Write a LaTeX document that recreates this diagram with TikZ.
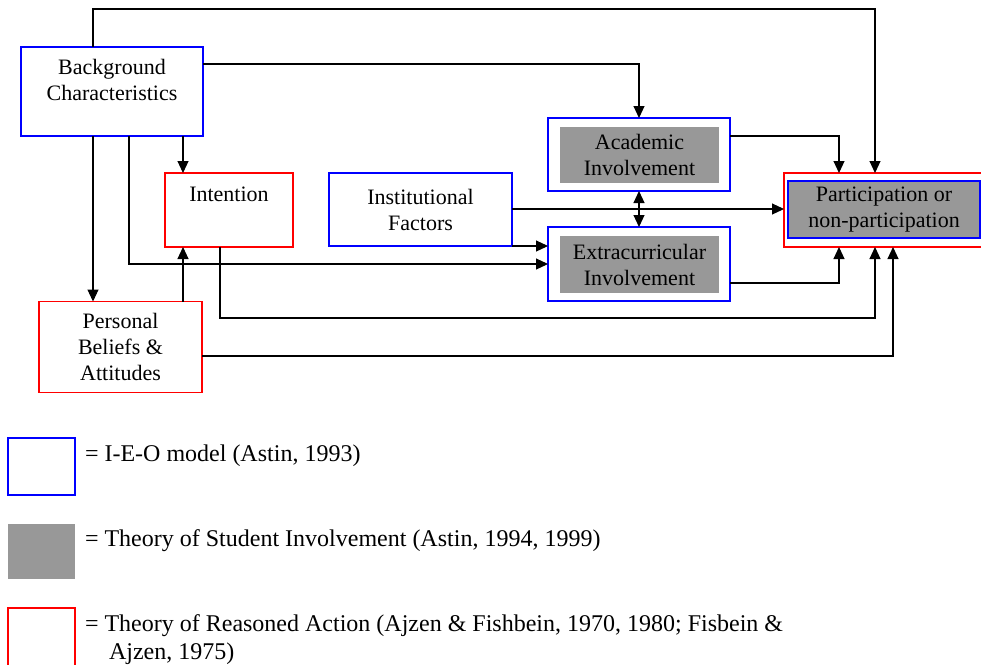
\documentclass[tikz,border=0pt]{standalone}
\usepackage{fontspec}
\setmainfont{Liberation Serif}
\usetikzlibrary{arrows.meta}
\definecolor{ieoblue}{RGB}{0,0,255}
\definecolor{trared}{RGB}{255,0,0}
\definecolor{stigray}{RGB}{152,152,152}
\begin{document}
\begin{tikzpicture}[x=1pt,y=-1pt,
  box/.style={rectangle, inner sep=0pt, outer sep=0pt, line width=1.3pt, align=center, font=\fontsize{22}{26}\selectfont},
  ieo/.style={box, draw=ieoblue},
  tra/.style={box, draw=trared},
  sti/.style={box, fill=stigray},
  lbl/.style={inner sep=0pt, outer sep=0pt, align=center, font=\fontsize{22}{26}\selectfont},
  arr/.style={line width=1.1pt, -{Triangle[length=12pt,width=11pt]}},
  arrtwo/.style={line width=1.1pt, {Triangle[length=12pt,width=11pt]}-{Triangle[length=12pt,width=11pt]}},
  legtxt/.style={inner sep=0pt, outer sep=0pt, anchor=north west, align=left, font=\fontsize{24}{28}\selectfont}]
\useasboundingbox (0,0) rectangle (981,664);
\clip (0,0) rectangle (981,664);

% boxes
\node[ieo, minimum width=182pt, minimum height=89pt] (bg) at (112,91.5) {};
\node[lbl, anchor=north] (bgt) at (112,59) {Background\\Characteristics};
\node[tra, minimum width=128pt, minimum height=74pt] (in) at (229,210) {};
\node[lbl, anchor=north] (int) at (229,187) {Intention};
\node[tra, minimum width=163pt, minimum height=91pt] (pb) at (120.5,347) {Personal\\Beliefs \&\\Attitudes};
\node[ieo, minimum width=183pt, minimum height=73pt] (if) at (420.5,209.5) {Institutional\\Factors};
\node[ieo, minimum width=182pt, minimum height=73pt] (ac) at (639,154.5) {};
\node[sti, minimum width=159pt, minimum height=56pt] (acg) at (639.5,155) {Academic\\Involvement};
\node[ieo, minimum width=182pt, minimum height=74pt] (ex) at (639,264) {};
\node[sti, minimum width=159pt, minimum height=57pt] (exg) at (639.5,264.5) {Extracurricular\\Involvement};
\node[tra, minimum width=204pt, minimum height=74pt] (pp) at (886,210) {};
\node[sti, draw=ieoblue, minimum width=192pt, minimum height=57pt] (ppg) at (884,209.5) {Participation or\\non-participation};

% routing points
\coordinate (k1) at (93,9);
\coordinate (k2) at (875,9);
\coordinate (k3) at (639,64);
\coordinate (k4) at (183,0);
\coordinate (k5) at (93,0);
\coordinate (k6) at (129,264);
\coordinate (k7) at (220,318);
\coordinate (k8) at (875,318);
\coordinate (k9) at (893,356);
\coordinate (k10) at (0,209);
\coordinate (k11) at (839,136);
\coordinate (k12) at (839,283);

% connectors
\draw[arr] (bg.north -| k1) -- (k1) -- (k2) -- (pp.north -| k2);
\draw[arr] (bg.east |- k3) -- (k3) -- (ac.north);
\draw[arr] (bg.south -| k4) -- (in.north -| k4);
\draw[arr] (bg.south -| k5) -- (pb.north -| k5);
\draw[arr] (bg.south -| k6) -- (k6) -- (ex.west |- k6);
\draw[arr] (pb.north -| k4) -- (in.south -| k4);
\draw[arr] (in.south -| k7) -- (k7) -- (k8) -- (pp.south -| k8);
\draw[arr] (pb.east |- k9) -- (k9) -- (pp.south -| k9);
\draw[arr] (if.east |- k10) -- (pp.west |- k10);
\draw[arr] (if.south east) -- (ex.west |- if.south east);
\draw[arrtwo] (ac.south) -- (ex.north);
\draw[arr] (ac.east |- k11) -- (k11) -- (pp.north -| k11);
\draw[arr] (ex.east |- k12) -- (k12) -- (pp.south -| k12);

% legend
\node[ieo, minimum width=67pt, minimum height=57pt] (l1) at (41.5,466.5) {};
\node[sti, minimum width=67pt, minimum height=55pt] (l2) at (41.5,551.5) {};
\node[tra, minimum width=67pt, minimum height=70pt] (l3) at (41.5,643) {};
\node[legtxt] (t1) at (85,444.5) {= I-E-O model (Astin, 1993)};
\node[legtxt] (t2) at (85,529.5) {= Theory of Student Involvement (Astin, 1994, 1999)};
\node[legtxt] (t3) at (85,614.5) {= Theory of Reasoned Action (Ajzen \& Fishbein, 1970, 1980; Fisbein \&\\\hspace*{24pt}Ajzen, 1975)};
\end{tikzpicture}
\end{document}
